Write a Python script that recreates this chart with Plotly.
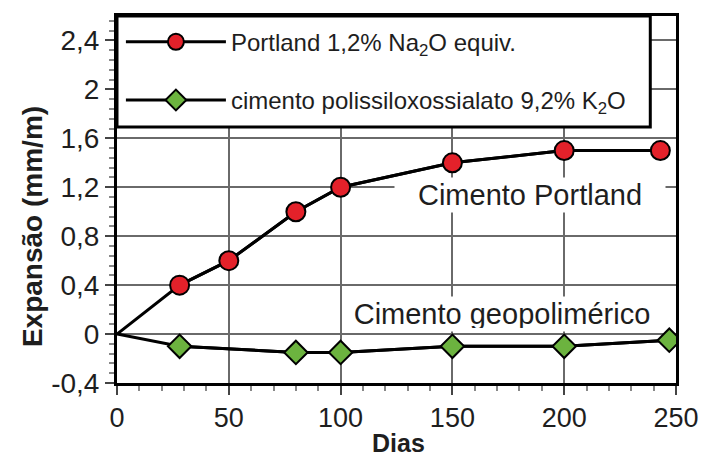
import plotly.graph_objects as go

# Expansion measurements (mm/m) over time (days)
dias_portland = [0, 28, 50, 80, 100, 150, 200, 243]
exp_portland = [0, 0.4, 0.6, 1.0, 1.2, 1.4, 1.5, 1.5]

dias_geo = [0, 28, 80, 100, 150, 200, 247]
exp_geo = [0, -0.1, -0.15, -0.15, -0.1, -0.1, -0.05]

x_ticks = [0, 50, 100, 150, 200, 250]
y_ticks = [-0.4, 0, 0.4, 0.8, 1.2, 1.6, 2.0, 2.4]
y_tick_text = ["-0,4", "0", "0,4", "0,8", "1,2", "1,6", "2", "2,4"]

nome_portland = "Portland 1,2% Na<sub>2</sub>O equiv."
nome_geo = "cimento polissiloxossialato 9,2% K<sub>2</sub>O"

FONT = "Liberation Sans, Arial, sans-serif"
TXT = "#1e1e1e"
GRID = "#6a6a6a"

fig = go.Figure()

# Curves start at the origin; the origin itself carries no marker
for xs, ys in ((dias_portland, exp_portland), (dias_geo, exp_geo)):
    fig.add_trace(go.Scatter(x=xs, y=ys, mode="lines", showlegend=False,
                             hoverinfo="skip", line=dict(color="black", width=3)))

fig.add_trace(go.Scatter(
    x=dias_portland[1:], y=exp_portland[1:], mode="lines+markers",
    name=nome_portland, legendgroup="p",
    line=dict(color="black", width=3),
    marker=dict(symbol="circle", size=19, color="#e3212a",
                line=dict(color="black", width=2)),
))
fig.add_trace(go.Scatter(
    x=dias_geo[1:], y=exp_geo[1:], mode="lines+markers",
    name=nome_geo, legendgroup="g",
    line=dict(color="black", width=3),
    marker=dict(symbol="diamond", size=18, color="#6cb33f",
                line=dict(color="black", width=2)),
))

# Curve labels on white boxes that mask the grid behind them
fig.add_annotation(x=184.7, y=1.135, text="Cimento Portland", showarrow=False,
                   font=dict(family=FONT, size=29, color=TXT),
                   bgcolor="white", width=262, height=26, borderpad=4,
                   xref="x", yref="y")
fig.add_annotation(x=172, y=0.163, text="Cimento geopolimérico", showarrow=False,
                   font=dict(family=FONT, size=29, color=TXT),
                   bgcolor="white", width=306, height=28, borderpad=3,
                   xref="x", yref="y")

# Axis titles
fig.add_annotation(xref="paper", yref="paper", x=-0.152, y=0.425,
                   xanchor="center", yanchor="middle",
                   text="<b>Expansão (mm/m)</b>", textangle=-90, showarrow=False,
                   font=dict(family=FONT, size=28, color=TXT))
fig.add_annotation(xref="paper", yref="paper", x=0.503, y=-0.163,
                   xanchor="center", yanchor="middle",
                   text="<b>Dias</b>", showarrow=False,
                   font=dict(family=FONT, size=25, color=TXT))

# Legend frame drawn over the top of the plot area
fig.add_shape(type="rect", xref="paper", yref="paper",
              x0=0, x1=0.954, y0=0.6975, y1=1.0, layer="above",
              fillcolor="white", line=dict(color="black", width=3))

fig.update_layout(
    width=711, height=459,
    margin=dict(l=117, r=27, t=16, b=76),
    paper_bgcolor="white", plot_bgcolor="white",
    font=dict(family=FONT, color=TXT),
    showlegend=True,
    legend=dict(
        x=0.007, y=0.99, xanchor="left", yanchor="top",
        bgcolor="rgba(0,0,0,0)", borderwidth=0,
        font=dict(family=FONT, size=24, color=TXT),
        itemwidth=100, tracegroupgap=24,
    ),
    xaxis=dict(
        range=[0, 250], tickvals=x_ticks, ticktext=[str(v) for v in x_ticks],
        showgrid=True, gridcolor=GRID, gridwidth=2,
        showline=True, linecolor="black", linewidth=3, mirror=True,
        ticks="outside", ticklen=9, tickwidth=2, tickcolor="#444",
        minor=dict(dtick=10, ticks="outside", ticklen=5, tickcolor="#888", showgrid=False),
        tickfont=dict(family=FONT, size=27, color=TXT),
        zeroline=False,
    ),
    yaxis=dict(
        range=[-0.4, 2.6], tickvals=y_ticks, ticktext=y_tick_text,
        showgrid=True, gridcolor=GRID, gridwidth=2,
        showline=True, linecolor="black", linewidth=3, mirror=True,
        ticks="outside", ticklen=9, tickwidth=2, tickcolor="#444",
        minor=dict(dtick=0.08, tick0=0, ticks="outside", ticklen=5, tickcolor="#888", showgrid=False),
        tickfont=dict(family=FONT, size=28, color=TXT),
        zeroline=True, zerolinecolor=GRID, zerolinewidth=2,
    ),
)

fig.write_html("out.html")
